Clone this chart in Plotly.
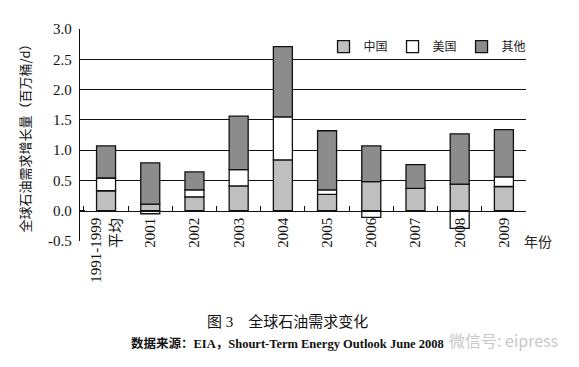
import plotly.graph_objects as go

categories = ["1991-1999<br>平均", "2001", "2002", "2003", "2004", "2005", "2006", "2007", "2008", "2009"]
china = [0.33, 0.11, 0.23, 0.41, 0.84, 0.27, 0.48, 0.37, 0.44, 0.40]
usa = [0.21, -0.05, 0.115, 0.27, 0.71, 0.075, -0.11, 0.0, -0.29, 0.16]
others = [0.53, 0.68, 0.295, 0.88, 1.16, 0.975, 0.59, 0.39, 0.83, 0.78]
grid_vals = [0.5, 1.0, 1.5, 2.0, 2.5]

series = [("中国", china, "#bfbfbf"), ("美国", usa, "#ffffff"), ("其他", others, "#8c8c8c")]

serif = "Liberation Serif, Times New Roman, Noto Sans CJK SC"
cjk = "Noto Sans CJK SC"
ink = "#111111"

fig = go.Figure()
for name, vals, col in series:
    fig.add_trace(go.Bar(x=categories, y=vals, name=name,
                         marker=dict(color=col, line=dict(color=ink, width=1.3))))
# invisible helper trace so the grid axis is drawn
fig.add_trace(go.Scatter(x=[categories[0]], y=[None], yaxis="y2", showlegend=False,
                         hoverinfo="skip", mode="markers"))

yr = [-0.5, 3.0]
fig.update_layout(
    width=579, height=367,
    margin=dict(l=72, r=61, t=21, b=134, autoexpand=False),
    paper_bgcolor="white", plot_bgcolor="white",
    barmode="relative", bargap=0.57,
    font=dict(family=serif, size=13, color=ink),
    showlegend=True,
    legend=dict(orientation="h", x=0.546, y=0.985, xanchor="left", yanchor="top",
                font=dict(family=cjk, size=12, color="#222222"),
                itemwidth=30, traceorder="normal", bgcolor="rgba(0,0,0,0)"),
    xaxis=dict(type="category", anchor="free", position=(0 - yr[0]) / (yr[1] - yr[0]),
               showline=True, linecolor=ink, linewidth=1.3, automargin=False,
               ticks="inside", tickson="boundaries", ticklen=5, tickcolor=ink,
               tickangle=-90, tickfont=dict(family=serif, size=15, color=ink),
               showgrid=False),
    yaxis=dict(range=yr, tickvals=[-0.5, 0, 0.5, 1.0, 1.5, 2.0, 2.5, 3.0],
               ticktext=["-0.5", "0.0", "0.5", "1.0", "1.5", "2.0", "2.5", "3.0"],
               showline=True, linecolor=ink, linewidth=1.3, automargin=False,
               ticks="inside", ticklen=5, tickcolor=ink, ticklabelstandoff=4,
               showgrid=False, zeroline=False,
               tickfont=dict(family=serif, size=15, color=ink),
               title=dict(text="全球石油需求增长量（百万桶/d）",
                          font=dict(family=cjk, size=13, color=ink), standoff=14)),
    yaxis2=dict(range=yr, overlaying="y", tickvals=grid_vals,
                showgrid=True, gridcolor=ink, gridwidth=1.3, automargin=False,
                showticklabels=False, ticks="", showline=False, zeroline=False),
)

fig.add_annotation(text="年份", xref="paper", yref="paper", x=0.99, y=0.0,
                   xanchor="left", yanchor="middle", showarrow=False,
                   font=dict(family=cjk, size=14, color="#222222"))
fig.add_annotation(text="图 3　全球石油需求变化", xref="paper", yref="paper", x=0.465, y=-0.38,
                   xanchor="center", yanchor="middle", showarrow=False,
                   font=dict(family=serif, size=15, color=ink))
fig.add_annotation(text="<b>数据来源：EIA，Shourt-Term Energy Outlook June 2008</b>", xref="paper", yref="paper",
                   x=0.465, y=-0.482, xanchor="center", yanchor="middle", showarrow=False,
                   font=dict(family=serif, size=12.5, color=ink))
fig.add_annotation(text="微信号: eipress", xref="paper", yref="paper", x=1.076, y=-0.467,
                   xanchor="right", yanchor="middle", showarrow=False,
                   font=dict(family=cjk, size=16, color="#c8c8c8"))

fig.write_html("out.html")
